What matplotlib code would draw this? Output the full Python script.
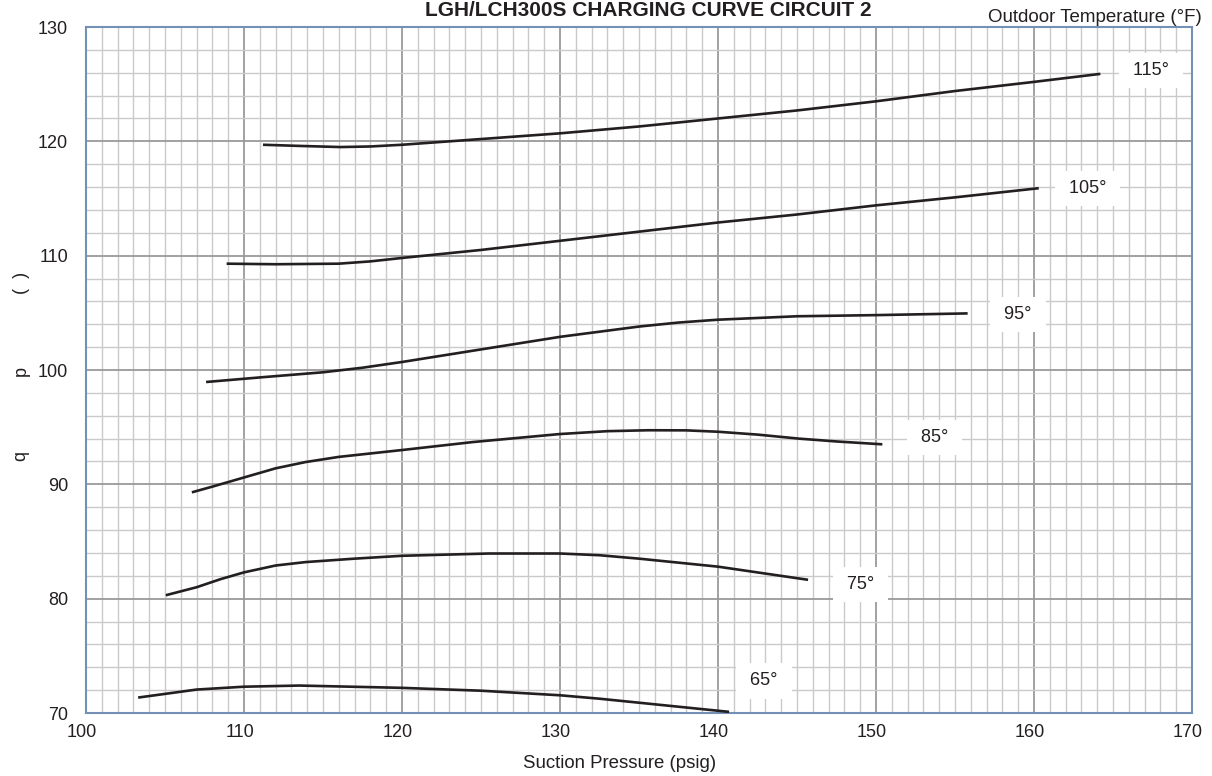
import matplotlib
matplotlib.use("Agg")
from matplotlib import pyplot as plt
from matplotlib.ticker import MultipleLocator
from matplotlib.transforms import ScaledTranslation

plt.rcParams['font.family'] = ['Liberation Sans', 'DejaVu Sans']

TEXT_COLOR = "#231f20"

# curves: suction pressure (psig) vs liquid temp
x_115 = [111.2, 113.5, 116.1, 118, 120, 125, 130, 135, 140, 145, 150, 155, 160, 164.2]
y_115 = [119.7, 119.6, 119.5, 119.55, 119.7, 120.2, 120.7, 121.3, 122.0, 122.7, 123.5, 124.4, 125.2, 125.9]

x_105 = [108.9, 112, 116, 118, 120, 125, 130, 135, 140, 145, 150, 155, 160.3]
y_105 = [109.3, 109.25, 109.3, 109.5, 109.8, 110.5, 111.3, 112.1, 112.9, 113.6, 114.4, 115.1, 115.9]

x_95 = [107.6, 111, 115, 117.5, 120, 125, 130, 135, 137.5, 140, 145, 150, 155.8]
y_95 = [98.95, 99.35, 99.8, 100.2, 100.7, 101.8, 102.9, 103.8, 104.15, 104.4, 104.7, 104.8, 104.95]

x_85 = [106.7, 108, 109, 110, 111, 112, 113.9, 116, 118, 120, 124.5, 130, 133, 135.6, 138, 140, 142.5, 145.1, 147.5, 150.4]
y_85 = [89.3, 89.8, 90.2, 90.6, 91.0, 91.4, 91.95, 92.4, 92.7, 93.0, 93.7, 94.4, 94.65, 94.73, 94.72, 94.6, 94.35, 94.0, 93.75, 93.5]

x_75 = [105.05, 107, 108.5, 110, 112, 113.9, 117, 120, 125.5, 130, 132.5, 135, 140, 145.7]
y_75 = [80.3, 81.0, 81.7, 82.3, 82.9, 83.2, 83.5, 83.75, 83.95, 83.95, 83.8, 83.5, 82.8, 81.65]

x_65 = [103.3, 107, 110, 113.5, 120, 125, 130, 132.5, 135, 140.7]
y_65 = [71.35, 72.05, 72.3, 72.4, 72.2, 71.95, 71.55, 71.25, 70.9, 70.1]

curve_labels = ["115°", "105°", "95°", "85°", "75°", "65°"]
label_x = [167.4, 163.4, 159.0, 153.7, 149.0, 142.9]
label_y = [126.2, 115.9, 104.85, 94.1, 81.2, 72.8]

x_ticks = [100, 110, 120, 130, 140, 150, 160, 170]
y_ticks = [70, 80, 90, 100, 110, 120, 130]

fig = plt.figure(figsize=(12.12, 7.76), dpi=100)
ax = fig.add_axes([86 / 1212, 1 - 713 / 776, (1192 - 86) / 1212, (713 - 27) / 776])

for _x, _y in [(x_115, y_115), (x_105, y_105), (x_95, y_95),
               (x_85, y_85), (x_75, y_75), (x_65, y_65)]:
    ax.plot(_x, _y, color=TEXT_COLOR, lw=1.9, solid_capstyle="butt", solid_joinstyle="round", zorder=3)

for _lab, _lx, _ly in zip(curve_labels, label_x, label_y):
    ax.text(_lx, _ly, " " + _lab + " ", ha="center", va="center", fontsize=13, color=TEXT_COLOR, zorder=4,
            bbox=dict(boxstyle="square,pad=0.5", fc="white", ec="none"))

ax.set_xlim(100, 170)
ax.set_ylim(70, 130)
ax.set_xticks(x_ticks)
ax.set_yticks(y_ticks)
ax.xaxis.set_minor_locator(MultipleLocator(1))
ax.yaxis.set_minor_locator(MultipleLocator(2))
ax.grid(which="minor", color="#cacaca", lw=1.0, zorder=0)
ax.grid(which="major", color="#9a9a9a", lw=1.3, zorder=1)
ax.set_axisbelow(True)
ax.tick_params(which="both", length=0, labelsize=13, colors=TEXT_COLOR)
ax.tick_params(axis="x", pad=8)
ax.tick_params(axis="y", pad=13)
# tick labels sit a little left of their grid lines in the original
_shift = ScaledTranslation(-4 / 100, 0, fig.dpi_scale_trans)
for _lab in ax.get_xticklabels():
    _lab.set_transform(_lab.get_transform() + _shift)
for _sp in ax.spines.values():
    _sp.set_color("#7490b5")
    _sp.set_linewidth(1.5)

fig.text(620 / 1212, 1 - 763 / 776, "Suction Pressure (psig)", ha="center", va="center",
         fontsize=13.4, color=TEXT_COLOR)
fig.text(648 / 1212, 1 - 10 / 776, "LGH/LCH300S CHARGING CURVE CIRCUIT 2", ha="center", va="center",
         fontsize=15, fontweight="bold", color=TEXT_COLOR)
fig.text(1202 / 1212, 1 - 17 / 776, "Outdoor Temperature (°F)", ha="right", va="center",
         fontsize=13.5, color=TEXT_COLOR)

# the y label only survives as scattered glyphs
for _g, _py in [("q", 456), ("p", 371), ("(  )", 283)]:
    fig.text(21 / 1212, 1 - _py / 776, _g, rotation=90, ha="center", va="center",
             fontsize=13, color=TEXT_COLOR)

fig.savefig("out.png", dpi=100)
